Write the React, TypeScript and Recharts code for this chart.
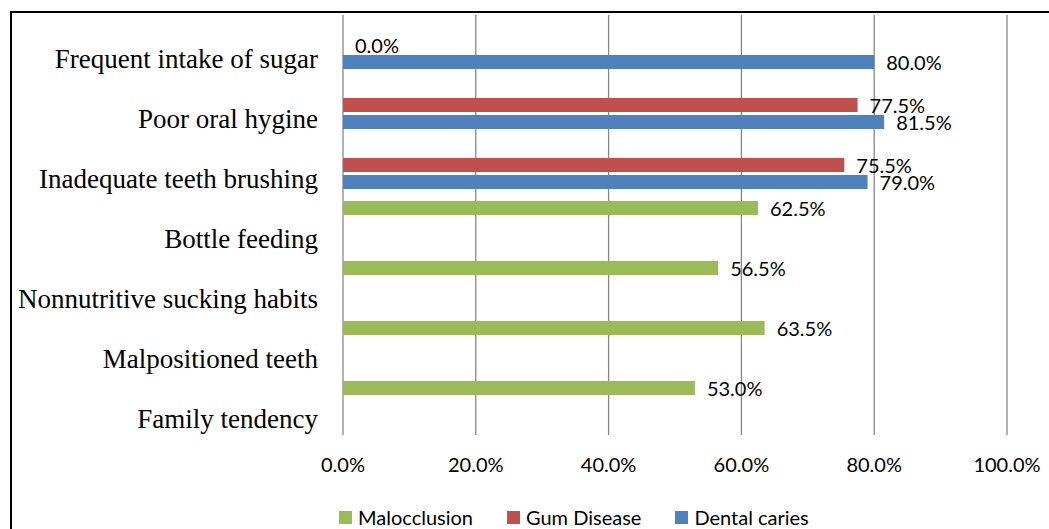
import React from 'react';
import { BarChart, Bar, XAxis, YAxis, CartesianGrid, LabelList, Legend } from 'recharts';

const categories = [
  'Frequent intake of sugar',
  'Poor oral hygine',
  'Inadequate teeth brushing',
  'Bottle feeding',
  'Nonnutritive sucking habits',
  'Malpositioned teeth',
  'Family tendency',
];
const malocclusion: (number | null)[] = [null, null, null, 62.5, 56.5, 63.5, 53.0];
const gumDisease: (number | null)[] = [0, 77.5, 75.5, null, null, null, null];
const dentalCaries: (number | null)[] = [80.0, 81.5, 79.0, null, null, null, null];
const xTicks = [0, 20, 40, 60, 80, 100];

const seriesInfo = [
  { key: 'malocclusion', name: 'Malocclusion', color: '#9BBB59' },
  { key: 'gumDisease', name: 'Gum Disease', color: '#C0504D' },
  { key: 'dentalCaries', name: 'Dental caries', color: '#4F81BD' },
];

const data = categories.map((name, i) => ({
  name,
  malocclusion: malocclusion[i],
  gumDisease: gumDisease[i],
  dentalCaries: dentalCaries[i],
}));

const SANS = 'Lato, "Liberation Sans", sans-serif';
const SERIF = '"Liberation Serif", "Times New Roman", serif';

const pct = (v: any) => (v === null || v === undefined ? '' : `${Number(v).toFixed(1)}%`);

const CategoryTick = (props: any) => {
  const { x, y, payload } = props;
  return (
    <text x={x} y={y + 14} dy="0.35em" textAnchor="end" fontFamily={SERIF} fontSize={27} fill="#000">
      {payload.value}
    </text>
  );
};

const LegendContent = () => (
  <div style={{ display: 'flex', alignItems: 'center', height: 24, paddingLeft: 339, fontFamily: SANS, fontSize: 20, color: '#000' }}>
    {seriesInfo.map((s) => (
      <div key={s.key} style={{ display: 'flex', alignItems: 'center', marginRight: 34 }}>
        <span style={{ display: 'inline-block', width: 13, height: 13, background: s.color, marginRight: 6 }} />
        <span>{s.name}</span>
      </div>
    ))}
  </div>
);

const zeroMin = (value: any) => (value === 0 ? 0.01 : 0);

export default function App() {
  return (
    <div style={{ position: 'absolute', left: 0, top: 0, width: 1049, height: 529, overflow: 'hidden', background: '#fff' }}>
      <div style={{ position: 'absolute', left: 10, top: 11, width: 1100, height: 600, border: '2px solid #000', boxSizing: 'border-box' }} />
      <div style={{ position: 'absolute', left: 0, top: 0 }}>
        <BarChart
          width={1049}
          height={529}
          data={data}
          layout="vertical"
          margin={{ top: 15, right: 42, left: 0, bottom: 38 }}
          barSize={14}
          barGap={3}
        >
          <CartesianGrid vertical={true} horizontal={false} stroke="#878787" strokeWidth={1.3} />
          <XAxis
            type="number"
            domain={[0, 100]}
            ticks={xTicks}
            tickFormatter={pct}
            axisLine={false}
            tickLine={false}
            tickSize={0}
            tickMargin={23}
            height={32}
            tick={{ fontFamily: SANS, fontSize: 20, fill: '#000' }}
          />
          <YAxis
            type="category"
            dataKey="name"
            width={343}
            axisLine={false}
            tickLine={false}
            tickSize={0}
            tickMargin={25}
            tick={<CategoryTick />}
            interval={0}
          />
          <Legend
            verticalAlign="bottom"
            content={<LegendContent />}
            wrapperStyle={{ top: 505, bottom: 'auto', left: 0, width: 1049, height: 24 }}
          />
          {seriesInfo.map((s) => (
            <Bar
              key={s.key}
              dataKey={s.key}
              name={s.name}
              fill={s.color}
              isAnimationActive={false}
              minPointSize={zeroMin}
            >
              <LabelList
                dataKey={s.key}
                position="right"
                offset={12}
                formatter={pct}
                fontFamily={SANS}
                fontSize={20}
                fill="#000"
                dy={1}
              />
            </Bar>
          ))}
        </BarChart>
      </div>
    </div>
  );
}
